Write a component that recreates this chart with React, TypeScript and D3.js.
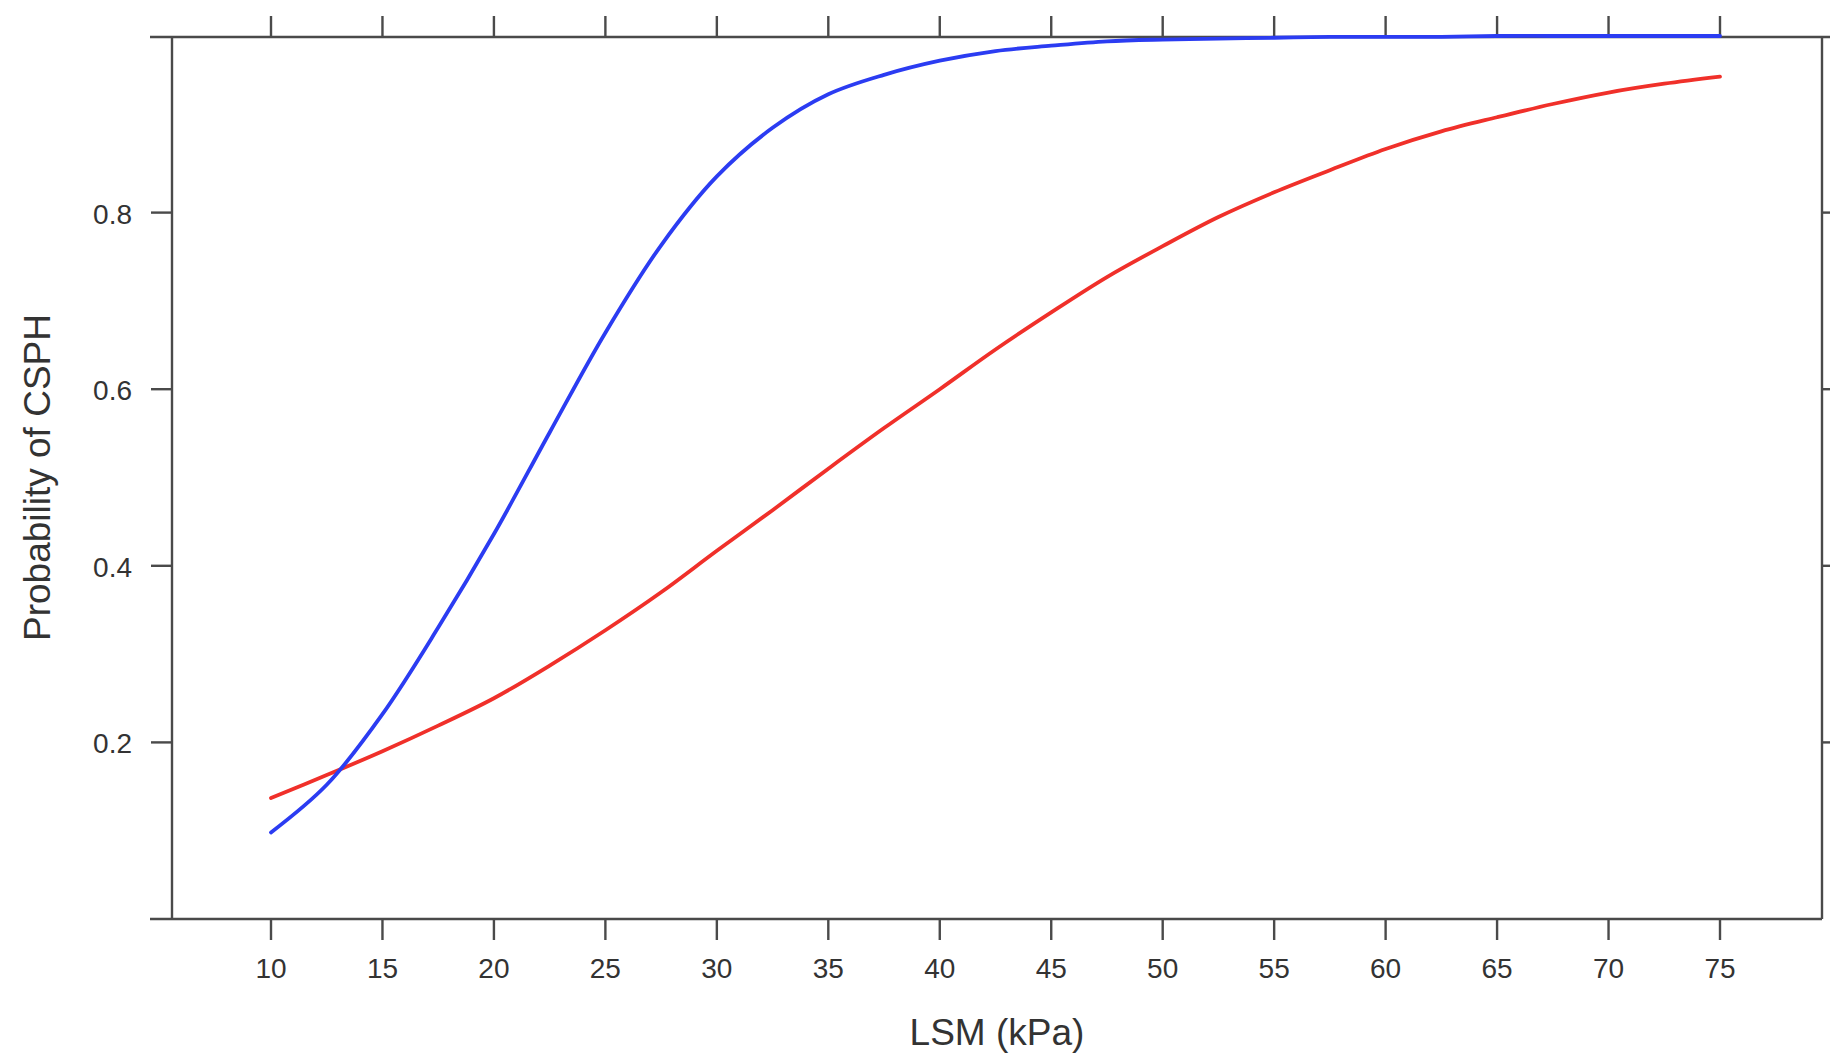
import React from "react";
import * as d3 from "d3";

// LSM stiffness values (kPa) at which the two probability curves are sampled
const lsm = [
  10, 12.5, 15, 17.5, 20, 22.5, 25, 27.5, 30, 32.5, 35, 37.5, 40, 42.5, 45,
  47.5, 50, 52.5, 55, 57.5, 60, 62.5, 65, 67.5, 70, 72.5, 75,
];

// Steeper model (blue)
const probBlue = [
  0.098, 0.152, 0.232, 0.33, 0.436, 0.551, 0.664, 0.763, 0.841, 0.896, 0.934,
  0.956, 0.972, 0.983, 0.989, 0.994, 0.996, 0.997, 0.998, 0.999, 0.999, 0.999,
  1.0, 1.0, 1.0, 1.0, 1.0,
];

// Flatter model (red)
const probRed = [
  0.137, 0.163, 0.19, 0.219, 0.25, 0.287, 0.327, 0.37, 0.417, 0.463, 0.51,
  0.556, 0.6, 0.645, 0.687, 0.727, 0.762, 0.795, 0.823, 0.848, 0.872, 0.892,
  0.908, 0.923, 0.936, 0.946, 0.954,
];

const xTicks = [10, 15, 20, 25, 30, 35, 40, 45, 50, 55, 60, 65, 70, 75];
const yTicks = [0.2, 0.4, 0.6, 0.8];

const W = 1830;
const H = 1058;
const frame = { left: 172, right: 1822, top: 36, bottom: 919 };
const axisColor = "#4a4a4a";
const textColor = "#333";
const font = "'Liberation Sans', Arial, Helvetica, sans-serif";

export default function App() {
  const x = d3.scaleLinear().domain([10, 75]).range([271, 1720]);
  const y = d3.scaleLinear().domain([0, 1]).range([frame.bottom, frame.top]);

  const line = d3
    .line<number>()
    .x((_, i) => x(lsm[i]))
    .y((d) => y(d))
    .curve(d3.curveCatmullRom.alpha(0.5));

  const tickLen = 21;

  return (
    <svg
      width={W}
      height={H}
      style={{ position: "absolute", left: 0, top: 0, display: "block", background: "#fff" }}
      fontFamily={font}
    >
      {/* frame */}
      <g stroke={axisColor} strokeWidth={2.4} fill="none">
        <line x1={150} x2={W} y1={frame.top + 1} y2={frame.top + 1} />
        <line x1={150} x2={frame.right} y1={frame.bottom} y2={frame.bottom} />
        <line x1={frame.left} x2={frame.left} y1={frame.top + 1} y2={frame.bottom} />
        <line x1={frame.right} x2={frame.right} y1={frame.top + 1} y2={frame.bottom} />
      </g>

      {/* ticks on all four sides */}
      <g stroke={axisColor} strokeWidth={2.4}>
        {xTicks.map((t) => (
          <g key={`xt${t}`}>
            <line x1={x(t)} x2={x(t)} y1={frame.bottom} y2={frame.bottom + tickLen} />
            <line x1={x(t)} x2={x(t)} y1={frame.top + 1} y2={frame.top + 1 - tickLen} />
          </g>
        ))}
        {yTicks.map((t) => (
          <g key={`yt${t}`}>
            <line x1={frame.left} x2={frame.left - tickLen} y1={y(t)} y2={y(t)} />
            <line x1={frame.right} x2={frame.right + tickLen} y1={y(t)} y2={y(t)} />
          </g>
        ))}
      </g>

      {/* tick labels */}
      <g fill={textColor} fontSize={28}>
        {xTicks.map((t) => (
          <text key={`xl${t}`} x={x(t)} y={978} textAnchor="middle">
            {t}
          </text>
        ))}
        {yTicks.map((t) => (
          <text key={`yl${t}`} x={132} y={y(t) + 11} textAnchor="end">
            {t.toFixed(1)}
          </text>
        ))}
      </g>

      {/* axis titles */}
      <text x={(frame.left + frame.right) / 2} y={1045} textAnchor="middle" fontSize={37} fill={textColor}>
        LSM (kPa)
      </text>
      <text
        transform={`translate(50, ${(frame.top + frame.bottom) / 2}) rotate(-90)`}
        textAnchor="middle"
        fontSize={37}
        fill={textColor}
      >
        Probability of CSPH
      </text>

      {/* curves */}
      <path d={line(probRed) ?? ""} fill="none" stroke="#f0302a" strokeWidth={3.8} strokeLinecap="round" />
      <path d={line(probBlue) ?? ""} fill="none" stroke="#2b3cf2" strokeWidth={3.8} strokeLinecap="round" />
    </svg>
  );
}
